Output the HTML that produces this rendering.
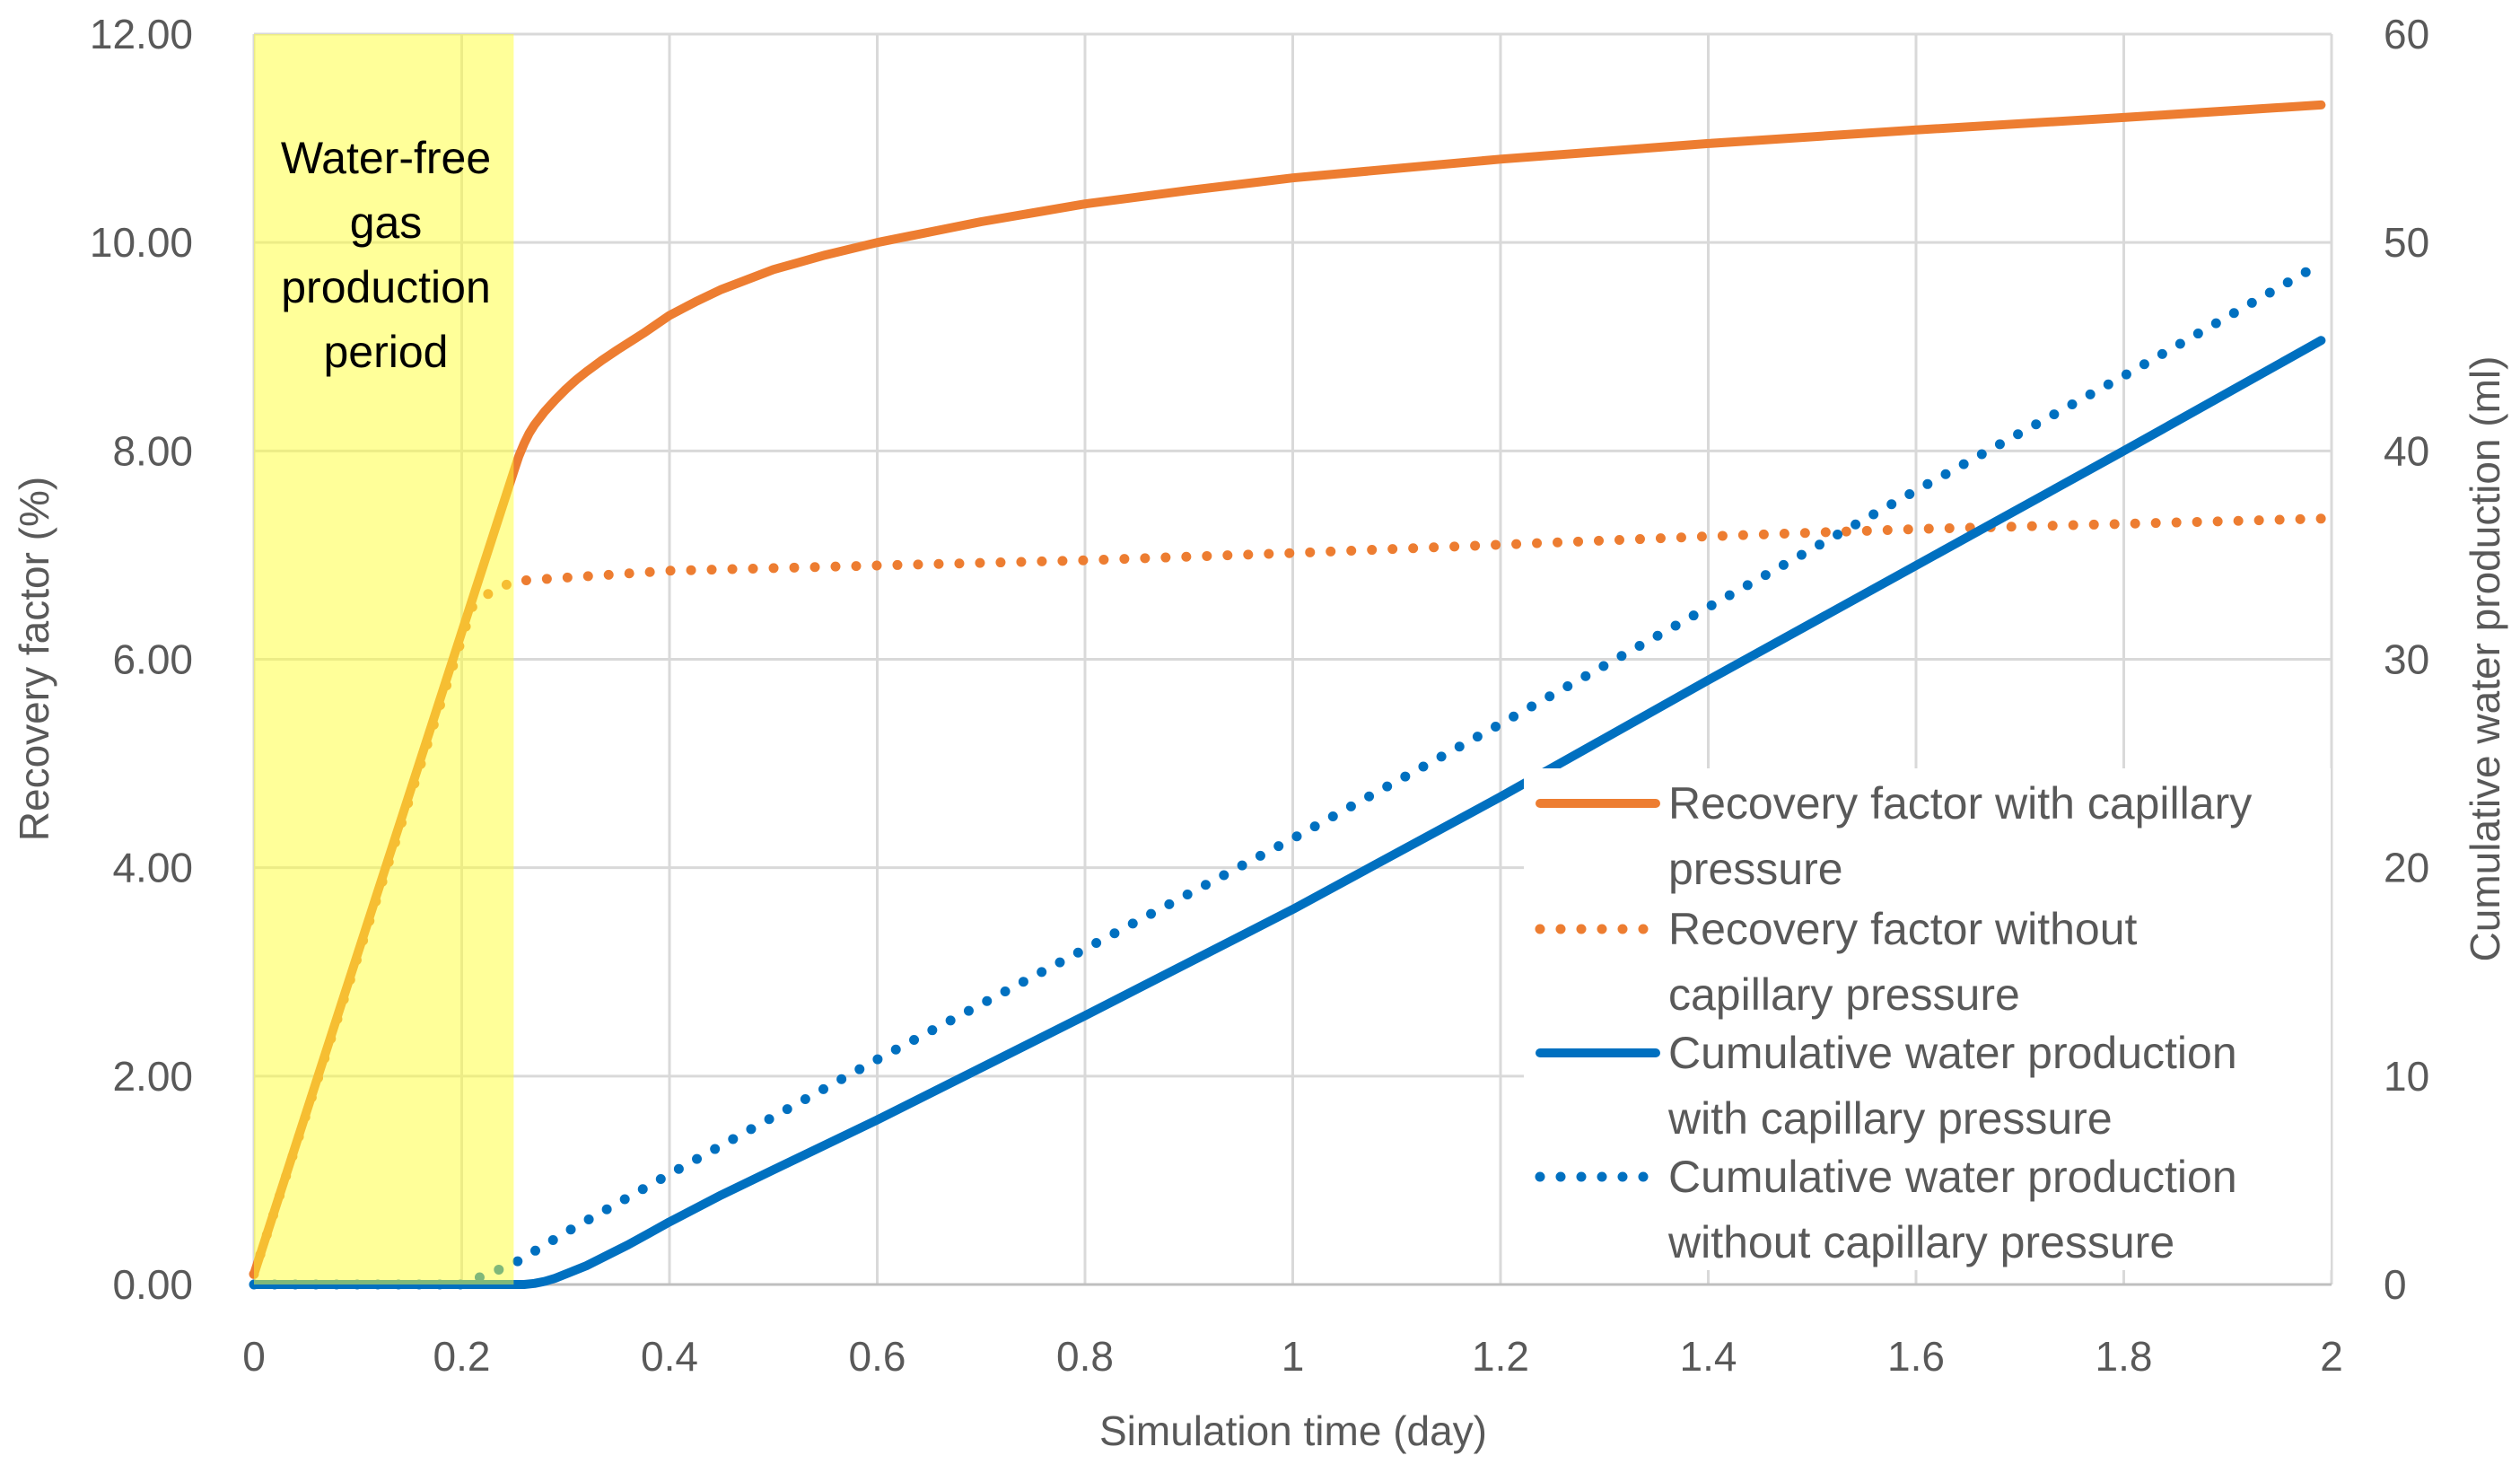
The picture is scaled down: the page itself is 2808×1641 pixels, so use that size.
<!DOCTYPE html>
<html><head><meta charset="utf-8"><style>
html,body{margin:0;padding:0;background:#fff;}
svg{display:block;font-family:"Liberation Sans",sans-serif;}
</style></head><body>
<svg id="chart" width="2808" height="1641" viewBox="0 0 2808 1641" xmlns="http://www.w3.org/2000/svg">
<g id="grid"></g>
<g id="series"></g>
<rect id="shade" fill="rgba(255,255,51,0.5)"/>
<g id="annot" font-size="50" fill="#000" text-anchor="middle"></g>
<g id="ticks" font-size="46" fill="#595959"></g>
<text font-size="46" fill="#595959" text-anchor="middle" transform="translate(54,734) rotate(-90)">Recovery factor (%)</text>
<text font-size="46" fill="#595959" text-anchor="middle" transform="translate(2785,734) rotate(-90)">Cumulative water production (ml)</text>
<text font-size="46" fill="#595959" text-anchor="middle" x="1441" y="1610">Simulation time (day)</text>
<g id="legend"></g>
</svg>
<script>
const xTicks=[0,0.2,0.4,0.6,0.8,1,1.2,1.4,1.6,1.8,2];
const yTicks=[0,2,4,6,8,10,12];
const y2Ticks=[0,10,20,30,40,50,60];
const rfCapT=[0,0.25,0.255,0.26,0.265,0.27,0.28,0.29,0.3,0.31,0.32,0.335,0.35,0.375,0.4,0.425,0.45,0.5,0.55,0.6,0.7,0.8,0.9,1.0,1.2,1.4,1.6,1.8,1.99];
const rfCapV=[0.1,7.8,7.95,8.07,8.17,8.25,8.38,8.49,8.59,8.68,8.76,8.87,8.97,9.13,9.3,9.43,9.55,9.74,9.88,10.0,10.2,10.37,10.5,10.62,10.8,10.95,11.08,11.2,11.32];
const rfNoT=[0,0.21,0.22,0.25,0.4,0.6,0.8,1.0,1.2,1.4,1.6,1.8,1.99];
const rfNoV=[0.1,6.5,6.6,6.75,6.85,6.9,6.95,7.02,7.1,7.18,7.25,7.3,7.35];
const wCapT=[0,0.26,0.27,0.28,0.29,0.3,0.32,0.34,0.36,0.38,0.4,0.45,0.5,0.6,0.8,1.0,1.2,1.4,1.6,1.8,1.99];
const wCapV=[0,0,0.05,0.15,0.3,0.5,0.9,1.4,1.9,2.45,3.0,4.3,5.5,7.9,12.9,18.0,23.4,29.0,34.5,40.0,45.3];
const wNoT=[0,0.2,0.25,0.3,0.4,0.6,0.8,1.0,1.2,1.4,1.6,1.8,1.99];
const wNoV=[0,0,1.0,2.5,5.3,10.8,16.1,21.4,26.9,32.5,38.1,43.6,49.0];
const shadeEnd=0.25;
const annotLines=["Water-free","gas","production","period"];
const legendLabels=[["Recovery factor with capillary","pressure"],["Recovery factor without","capillary pressure"],["Cumulative water production","with capillary pressure"],["Cumulative water production","without capillary pressure"]];

const X0=283,X1=2598,YT=38,YB=1431;
const sx=v=>X0+(v/2)*(X1-X0);
const sy=v=>YB-(v/12)*(YB-YT);
const sy2=v=>YB-(v/60)*(YB-YT);
const NS="http://www.w3.org/2000/svg";
function mk(tag,parent,attrs){const e=document.createElementNS(NS,tag);for(const k in attrs)e.setAttribute(k,attrs[k]);parent.appendChild(e);return e;}
const grid=document.getElementById('grid');
xTicks.forEach(t=>{const l=mk('line',grid,{x1:sx(t),x2:sx(t),y1:YT,y2:YB,stroke:'#d9d9d9','stroke-width':3});

});
yTicks.forEach(t=>{const l=mk('line',grid,{x1:X0,x2:X1,y1:sy(t),y2:sy(t),stroke:t===0?'#bfbfbf':'#d9d9d9','stroke-width':3});

});
const ticks=document.getElementById('ticks');
xTicks.forEach(t=>{const e=mk('text',ticks,{x:sx(t),y:1527,'text-anchor':'middle'});e.textContent=String(t);

});
yTicks.forEach(t=>{const e=mk('text',ticks,{x:215,y:sy(t)+16,'text-anchor':'end'});e.textContent=t.toFixed(2);

});
y2Ticks.forEach(t=>{const e=mk('text',ticks,{x:2656,y:sy2(t)+16,'text-anchor':'start'});e.textContent=String(t);

});
const ser=document.getElementById('series');
function path(T,V,f){return T.map((t,i)=>(i?'L':'M')+sx(t).toFixed(1)+','+f(V[i]).toFixed(1)).join(' ');}
const specs=[
 ['rf-with-cap-line',rfCapT,rfCapV,sy,'#ED7D31',false],
 ['rf-without-cap-line',rfNoT,rfNoV,sy,'#ED7D31',true],
 ['water-with-cap-line',wCapT,wCapV,sy2,'#0070C0',false],
 ['water-without-cap-line',wNoT,wNoV,sy2,'#0070C0',true]];
specs.forEach(s=>{const a={d:path(s[1],s[2],s[3]),fill:'none',stroke:s[4],'stroke-width':10,'stroke-linejoin':'round','stroke-linecap':'round'};
if(s[5]){a['stroke-dasharray']='0 23';a['stroke-width']=11;}
const p=mk('path',ser,a);

});
const sh=document.getElementById('shade');
sh.setAttribute('x',sx(0));sh.setAttribute('y',YT);sh.setAttribute('width',sx(shadeEnd)-sx(0));sh.setAttribute('height',YB-YT);
const an=document.getElementById('annot');
annotLines.forEach((s,i)=>{const e=mk('text',an,{x:430,y:193+i*72});e.textContent=s;

});
const lg=document.getElementById('legend');
mk('rect',lg,{x:1698,y:856,width:899,height:559,fill:'#fff'});
const rows=[895,1035,1173,1311];
legendLabels.forEach((lab,i)=>{const s=specs[i];
const a={x1:1716,x2:1845,y1:rows[i],y2:rows[i],stroke:s[4],'stroke-width':10,'stroke-linecap':'round'};
if(s[5]){a['stroke-dasharray']='0 23';a['stroke-width']=11;}
const l=mk('line',lg,a);


lab.forEach((t,j)=>{const e=mk('text',lg,{x:1859,y:rows[i]+17+j*73,'font-size':50,fill:'#595959'});e.textContent=t;

});});
</script>
</body></html>
